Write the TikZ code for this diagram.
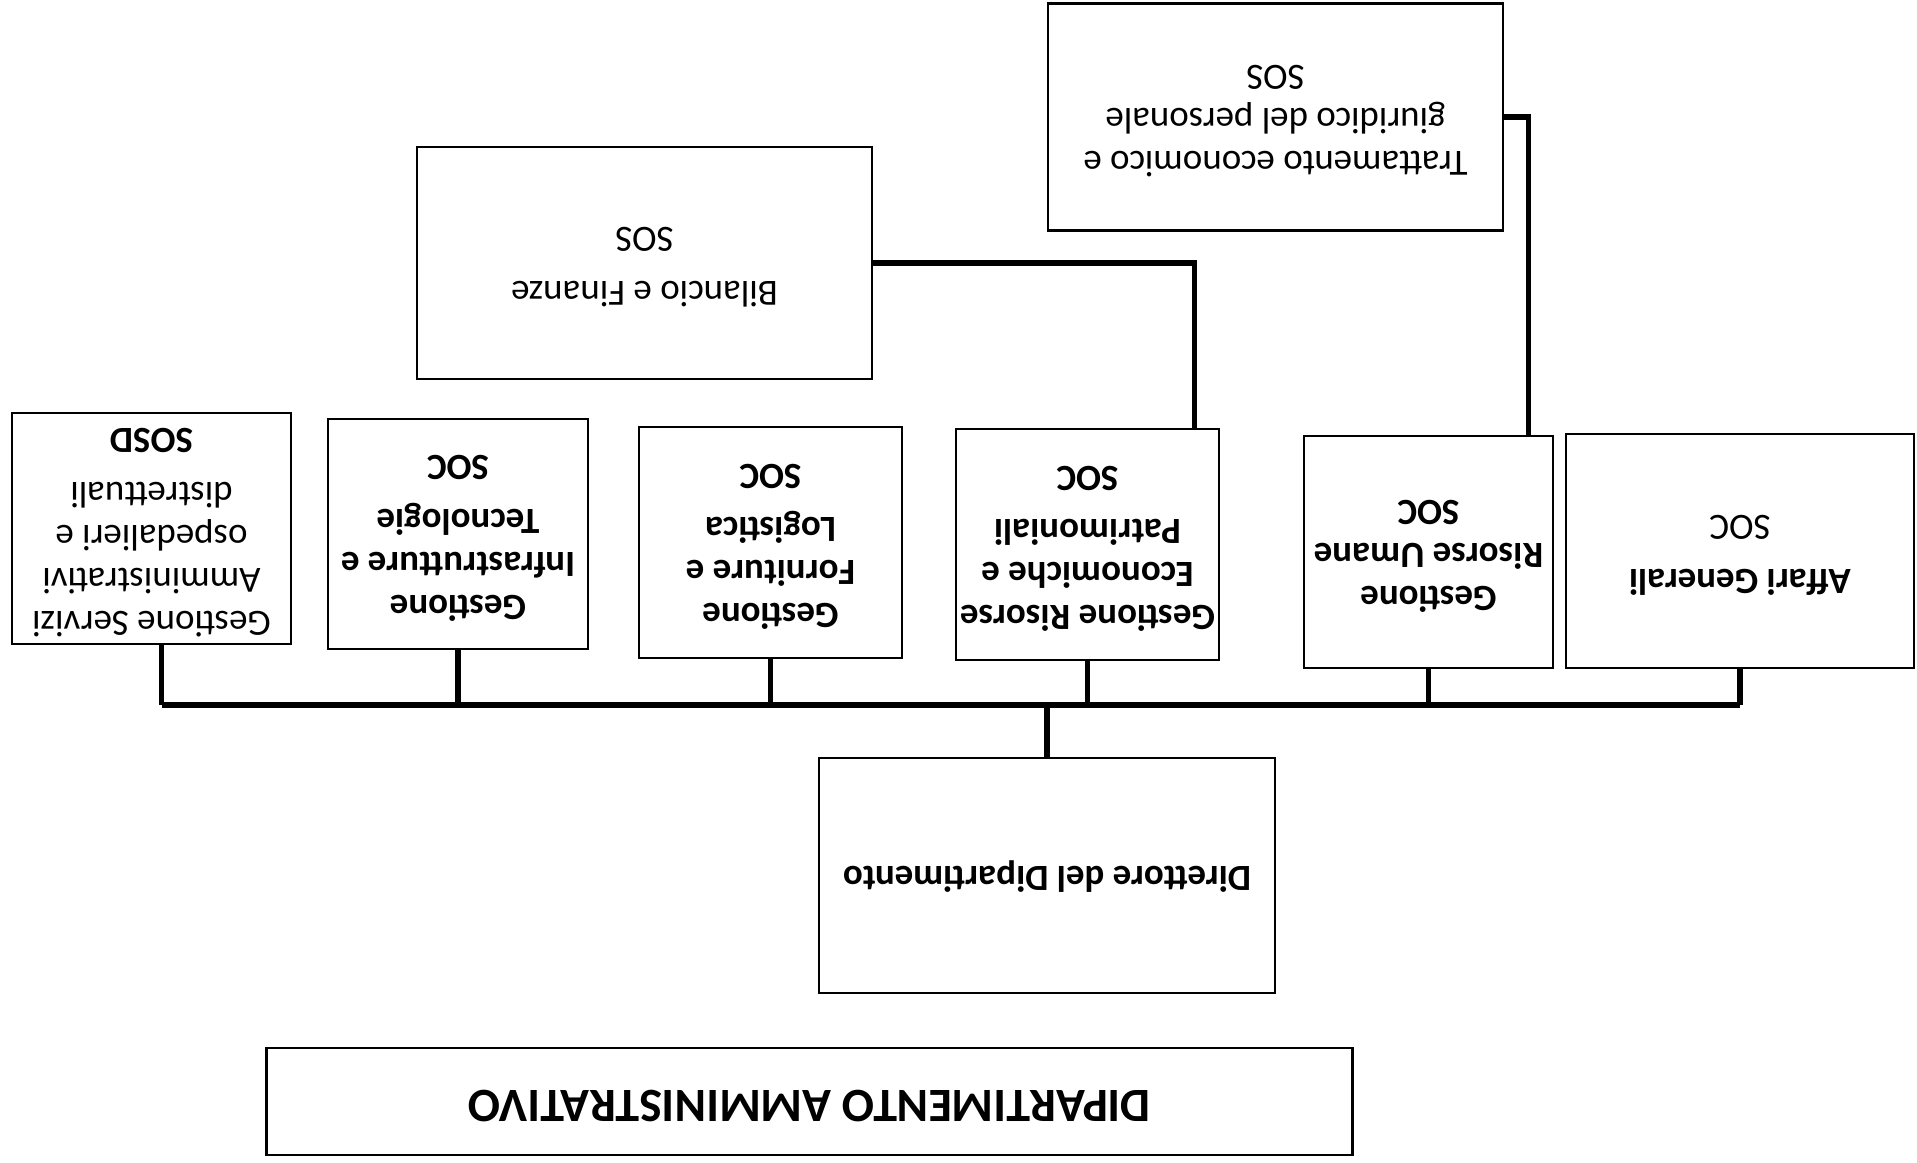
\documentclass[tikz,border=0pt]{standalone}
\usepackage{fontspec}
\setmainfont{Carlito}
\usetikzlibrary{positioning}

% text of the scanned chart is upside down
\newcommand{\flip}[1]{\rotatebox{180}{\begin{tabular}{@{}c@{}}#1\end{tabular}}}

\begin{document}
\begin{tikzpicture}[x=0.01cm, y=-0.01cm,
    box/.style={draw, line width=0.7pt, inner sep=0pt, font=\fontsize{10.5}{12.2}\selectfont},
    link/.style={line width=1.5pt}]
    \useasboundingbox (0,0) rectangle (1917,1162);

    % Title and director
    \node[box, minimum width=10.85cm, minimum height=1.07cm, font=\fontsize{13.6}{15}\selectfont\bfseries] (titolo) at (809.5,1101.5) {\flip{DIPARTIMENTO AMMINISTRATIVO}};
    \node[box, minimum width=4.56cm, minimum height=2.35cm, font=\fontsize{10.5}{12.2}\selectfont\bfseries] (dir) at (1047,875.5) {\flip{Direttore del Dipartimento}};

    % Structures under the director
    \node[box, minimum width=2.79cm, minimum height=2.31cm] (gsa) at (151.5,528.5) {\flip{Gestione Servizi\\ Amministrativi\\ ospedalieri e\\ distrettuali\\[3pt] \textbf{SOSD}}};
    \node[box, minimum width=2.60cm, minimum height=2.30cm, font=\fontsize{10.5}{12.2}\selectfont\bfseries] (git) at (458,534) {\flip{Gestione\\ Infrastrutture e\\ Tecnologie\\[3pt] SOC}};
    \node[box, minimum width=2.63cm, minimum height=2.31cm, font=\fontsize{10.5}{12.2}\selectfont\bfseries] (gfl) at (770.5,542.5) {\flip{Gestione\\ Forniture e\\ Logistica\\[3pt] SOC}};
    \node[box, minimum width=2.63cm, minimum height=2.31cm, font=\fontsize{10.5}{12.2}\selectfont\bfseries] (grep) at (1087.5,544.5) {\flip{Gestione Risorse\\ Economiche e\\ Patrimoniali\\[3pt] SOC}};
    \node[box, minimum width=2.49cm, minimum height=2.32cm, font=\fontsize{10.5}{12.2}\selectfont\bfseries] (gru) at (1428.5,552) {\flip{Gestione\\ Risorse Umane\\ SOC}};
    \node[box, minimum width=3.48cm, minimum height=2.34cm] (ag) at (1740,551) {\flip{\textbf{Affari Generali}\\[3pt] SOC}};

    % Simple operating units
    \node[box, minimum width=4.55cm, minimum height=2.32cm] (bf) at (644.5,263) {\flip{Bilancio e Finanze\\[3pt] SOS}};
    \node[box, minimum width=4.55cm, minimum height=2.27cm] (teg) at (1275.5,117) {\flip{Trattamento economico e\\ giuridico del personale\\ SOS}};

    % Bus
    \coordinate (bus) at (0,705);
    \draw[link] ([xshift=0.1cm]gsa.south |- bus) -- (ag.south |- bus);
    \draw[link] (dir.north) -- (dir.north |- bus);
    \draw[link] ([xshift=0.1cm]gsa.south) -- ([xshift=0.1cm]gsa.south |- bus);
    \foreach \n in {git,gfl,grep,gru,ag}
        \draw[link] (\n.south) -- (\n.south |- bus);

    % SOS links
    \draw[link] (bf.east) -| ([xshift=1.07cm]grep.north);
    \draw[link] (teg.east) -| ([xshift=1cm]gru.north);
\end{tikzpicture}
\end{document}
